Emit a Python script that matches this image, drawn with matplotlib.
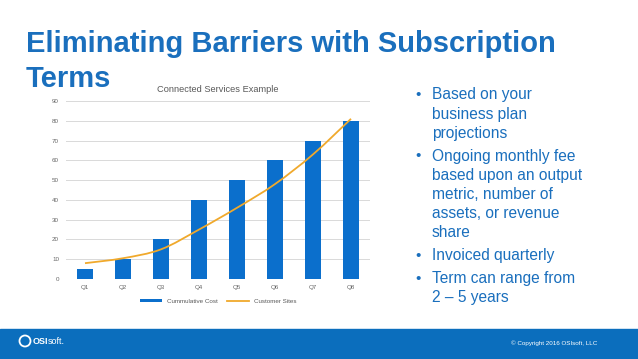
import numpy as np
import matplotlib
matplotlib.use('Agg')
import matplotlib.pyplot as plt
from matplotlib.path import Path
from matplotlib.patches import PathPatch, Rectangle, Ellipse

# data
quarters = ["Q1", "Q2", "Q3", "Q4", "Q5", "Q6", "Q7", "Q8"]
cumulative_cost = [5, 10, 20, 40, 50, 60, 70, 80]
customer_sites = [8, 10.5, 15, 25, 36, 48, 63, 81]
yticks = [0, 10, 20, 30, 40, 50, 60, 70, 80, 90]

title_lines = ["Eliminating Barriers with Subscription", "Terms"]
bullets = [
    ["Based on your", "business plan", "projections"],
    ["Ongoing monthly fee", "based upon an output", "metric, number of", "assets, or revenue", "share"],
    ["Invoiced quarterly"],
    ["Term can range from", "2 \u2013 5 years"],
]

blue = "#1a6fbd"
bar_blue = "#0b6fcc"
orange = "#f0a92c"
W, H = 638, 359

plt.rcParams['font.family'] = ['Liberation Sans', 'DejaVu Sans']
fig = plt.figure(figsize=(W / 100, H / 100), dpi=100)
fig.patch.set_facecolor("white")

def px(x, y):
    return x / W, 1 - y / H

# title
fig.text(*px(26, 52), title_lines[0], color=blue, fontsize=21, fontweight='bold', va='baseline')
fig.text(*px(26, 87), title_lines[1], color=blue, fontsize=21, fontweight='bold', va='baseline')

# chart
x0, x1, ytop, ybot = 66, 370, 101, 279
ax = fig.add_axes([x0 / W, 1 - ybot / H, (x1 - x0) / W, (ybot - ytop) / H])
x = np.arange(len(quarters))
ax.bar(x, cumulative_cost, width=0.4, color=bar_blue, zorder=2, label="Cummulative Cost")

# smooth line through the points (Catmull-Rom as bezier)
pts = np.column_stack([x, customer_sites]).astype(float)
verts = [tuple(pts[0])]
codes = [Path.MOVETO]
for i in range(len(pts) - 1):
    p0 = pts[i - 1] if i > 0 else pts[i]
    p1, p2 = pts[i], pts[i + 1]
    p3 = pts[i + 2] if i + 2 < len(pts) else pts[i + 1]
    c1 = p1 + (p2 - p0) / 6
    c2 = p2 - (p3 - p1) / 6
    verts += [tuple(c1), tuple(c2), tuple(p2)]
    codes += [Path.CURVE4] * 3
ax.add_patch(PathPatch(Path(verts, codes), facecolor='none', edgecolor=orange, lw=1.3, zorder=3))
ax.plot([], [], color=orange, lw=1.3, label="Customer Sites")

ax.set_xlim(-0.5, len(quarters) - 0.5)
ax.set_ylim(0, 90)
ax.set_yticks(yticks)
ax.set_xticks(x)
ax.set_xticklabels(quarters)
ax.tick_params(axis='both', length=0, labelsize=4.5, colors="#666666")
ax.tick_params(axis='y', pad=5)
ax.tick_params(axis='x', pad=4)
ax.grid(axis='y', color="#d9d9d9", lw=0.7, zorder=0)
for s in ax.spines.values():
    s.set_visible(False)
ax.axhline(0, color="#d9d9d9", lw=0.7, zorder=1)
ax.set_title("Connected Services Example", fontsize=6.7, color="#595959", pad=6.5)
handles, labels = ax.get_legend_handles_labels()
order = [labels.index("Cummulative Cost"), labels.index("Customer Sites")]
ax.legend([handles[i] for i in order], [labels[i] for i in order],
          loc='upper center', bbox_to_anchor=(0.5, -0.08), ncol=2, frameon=False,
          fontsize=4.5, handlelength=3.5, handleheight=0.5, columnspacing=1.5,
          labelcolor="#595959")

# bullets
y = 95
for group in bullets:
    fig.text(*px(415, y), "\u2022", color=blue, fontsize=11, va='center')
    for line in group:
        fig.text(*px(432, y), line, color=blue, fontsize=11.2, va='center')
        y += 19.2
    y += 3.6

# footer
fig.patches.append(Rectangle((0, 0), 1, 30 / H, transform=fig.transFigure, color="#0b6ebd", zorder=0))
fig.patches.append(Ellipse(px(25, 341), 11 / W, 11 / H, transform=fig.transFigure, facecolor='none',
                           edgecolor='white', lw=1.3, zorder=2))
fig.text(*px(33, 341), "OSI", color='white', fontsize=6.5, fontweight='bold', va='center')
fig.text(*px(47.5, 341), "soft.", color='white', fontsize=6.5, va='center')
fig.text(*px(597, 343), "\u00a9 Copyright 2016 OSIsoft, LLC", color='white', fontsize=4.5,
         ha='right', va='center')

fig.savefig("out.png", dpi=100, facecolor="white")
